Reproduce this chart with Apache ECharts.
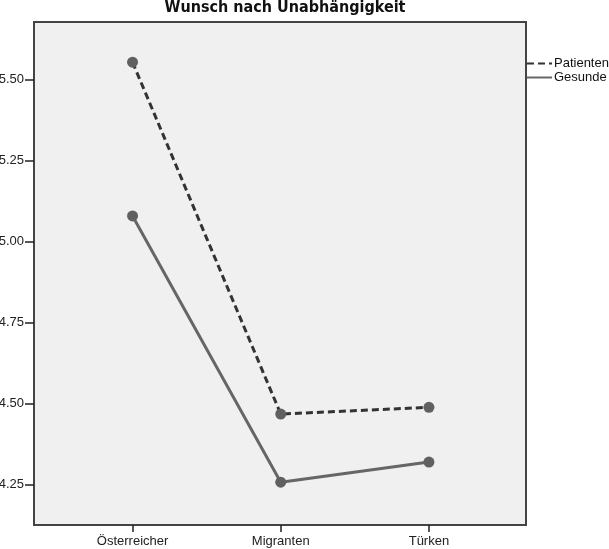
<!DOCTYPE html>
<html>
<head>
<meta charset="utf-8">
<script src="https://cdn.jsdelivr.net/npm/echarts@6/dist/echarts.min.js"></script>
<style>html,body{margin:0;padding:0;background:#fff}#c{width:609px;height:549px}</style>
</head>
<body>
<div id="c"></div>
<script>
const categories = ['Österreicher', 'Migranten', 'Türken'];
const patienten = [5.553, 4.468, 4.489];
const gesunde = [5.079, 4.258, 4.320];
const yTicks = [4.25, 4.50, 4.75, 5.00, 5.25, 5.50];
const titleText = 'Wunsch nach Unabhängigkeit';
const seriesNames = ['Patienten', 'Gesunde'];

const chart = echarts.init(document.getElementById('c'), null, {renderer: 'canvas'});
const toPairs = arr => arr.map((v, i) => [i, v]);
const labelFont = "'Liberation Sans', Arial, sans-serif";
chart.setOption({
  animation: false,
  backgroundColor: '#ffffff',
  title: {
    text: titleText,
    left: 280, top: -5, textAlign: 'center', padding: 5,
    textStyle: {fontFamily: "'DejaVu Sans Condensed', 'Liberation Sans Narrow', sans-serif", fontWeight: 'bold', fontSize: 16, color: '#111'}
  },
  legend: {
    orient: 'vertical', left: 526, top: 57, padding: 0, itemWidth: 25, itemHeight: 11, itemGap: 1,
    textStyle: {fontFamily: labelFont, fontSize: 13, color: '#111', padding: [0,0,0,-3]},
    itemStyle: {opacity: 0},
    data: seriesNames
  },
  grid: {left: 34, top: 22, right: 83, bottom: 24, containLabel: false, outerBoundsMode: 'none',
         show: true, backgroundColor: '#f0f0f0', borderColor: '#444', borderWidth: 2},
  xAxis: {
    type: 'value', min: -0.665, max: 2.655,
    splitLine: {show: false},
    axisLine: {show: true, onZero: false, lineStyle: {color: '#444', width: 2}},
    axisTick: {show: true, customValues: [0, 1, 2], length: 7, lineStyle: {color: '#222', width: 1.5}},
    axisLabel: {customValues: [0, 1, 2], formatter: v => categories[Math.round(v)], fontFamily: labelFont, fontSize: 13, color: '#222', margin: 10}
  },
  yAxis: {
    type: 'value', min: 4.126, max: 5.677,
    splitLine: {show: false},
    axisLine: {show: true, onZero: false, lineStyle: {color: '#444', width: 2}},
    axisTick: {show: true, customValues: yTicks, length: 9, lineStyle: {color: '#222', width: 1.5}},
    axisLabel: {customValues: yTicks, formatter: v => v.toFixed(2), fontFamily: labelFont, fontSize: 13, color: '#222', margin: 10}
  },
  series: [
    {name: seriesNames[0], type: 'line', data: toPairs(patienten), symbol: 'circle', symbolSize: 11,
     itemStyle: {color: '#606060'}, lineStyle: {color: '#333', width: 3, type: [7, 4]}},
    {name: seriesNames[1], type: 'line', data: toPairs(gesunde), symbol: 'circle', symbolSize: 11,
     itemStyle: {color: '#606060'}, lineStyle: {color: '#666', width: 3}}
  ]
});
</script>
</body>
</html>
